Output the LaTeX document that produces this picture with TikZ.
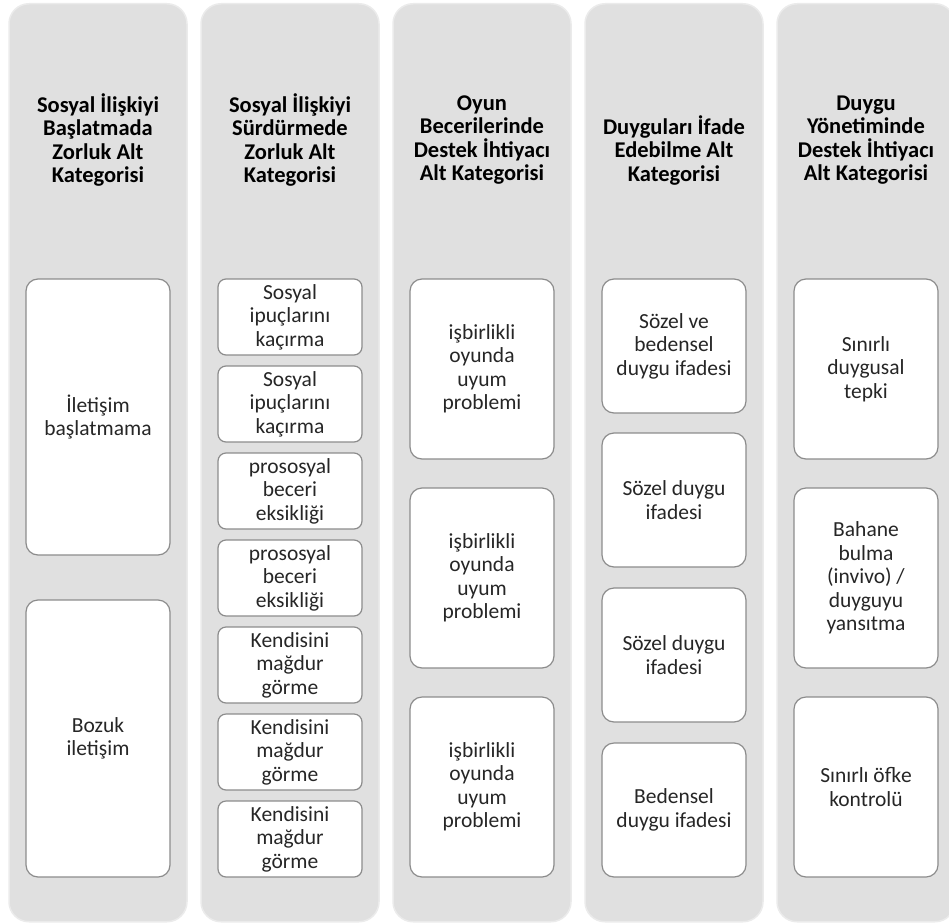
\documentclass[tikz,border=0pt]{standalone}
\usepackage{fontspec}
\setmainfont{Carlito}
\definecolor{colfill}{HTML}{E0E0E0}
\definecolor{colrim}{HTML}{EBEBEB}
\definecolor{boxline}{HTML}{8C8C8C}
\definecolor{txt}{HTML}{262626}
\begin{document}
\begin{tikzpicture}[x=1pt,y=-1pt,
  column/.style={fill=colfill, draw=colrim, line width=1.5pt, rounded corners=20pt,
    minimum width=178pt, minimum height=918pt, anchor=north, inner sep=0pt},
  item/.style={draw=boxline, fill=white, line width=1.2pt, rounded corners=12pt,
    align=center, font=\fontsize{21.5}{23.5}\selectfont, text=txt, inner sep=0pt,
    minimum width=144pt},
  small/.style={item, rounded corners=8pt, minimum height=76pt},
  tall/.style={item, minimum height=180pt},
  mid/.style={item, minimum height=134pt},
  head/.style={align=center, font=\fontsize{22.5}{23.5}\selectfont\bfseries, text=black}]
\useasboundingbox (0,0) rectangle (949,923);
\clip (0,0) rectangle (949,923);

% category columns
\node[column] (c1) at (98,3) {};
\node[column] (c2) at (290,3) {};
\node[column] (c3) at (482,3) {};
\node[column] (c4) at (674,3) {};
\node[column] (c5) at (866,3) {};

% column headings
\node[head] (h1) at (98,140) {Sosyal İlişkiyi\\Başlatmada\\Zorluk Alt\\Kategorisi};
\node[head] (h2) at (290,140) {Sosyal İlişkiyi\\Sürdürmede\\Zorluk Alt\\Kategorisi};
\node[head] (h3) at (482,140) {Oyun\\Becerilerinde\\Destek İhtiyacı\\Alt Kategorisi};
\node[head] (h4) at (674,150) {Duyguları İfade\\Edebilme Alt\\Kategorisi};
\node[head] (h5) at (866,140) {Duygu\\Yönetiminde\\Destek İhtiyacı\\Alt Kategorisi};

% column 1
\node[item, minimum height=276pt] (a1) at (98,417) {İletişim\\başlatmama};
\node[item, minimum height=277pt] (a2) at (98,738.5) {Bozuk\\iletişim};

% column 2
\node[small] (b1) at (290,317) {Sosyal\\ipuçlarını\\kaçırma};
\node[small] (b2) at (290,404) {Sosyal\\ipuçlarını\\kaçırma};
\node[small] (b3) at (290,491) {prososyal\\beceri\\eksikliği};
\node[small] (b4) at (290,578) {prososyal\\beceri\\eksikliği};
\node[small] (b5) at (290,665) {Kendisini\\mağdur\\görme};
\node[small] (b6) at (290,752) {Kendisini\\mağdur\\görme};
\node[small] (b7) at (290,839) {Kendisini\\mağdur\\görme};

% column 3
\node[tall] (d1) at (482,369) {işbirlikli\\oyunda\\uyum\\problemi};
\node[tall] (d2) at (482,578) {işbirlikli\\oyunda\\uyum\\problemi};
\node[tall] (d3) at (482,787) {işbirlikli\\oyunda\\uyum\\problemi};

% column 4
\node[mid] (e1) at (674,346) {Sözel ve\\bedensel\\duygu ifadesi};
\node[mid] (e2) at (674,500) {Sözel duygu\\ifadesi};
\node[mid] (e3) at (674,655) {Sözel duygu\\ifadesi};
\node[mid] (e4) at (674,810) {Bedensel\\duygu ifadesi};

% column 5
\node[tall] (f1) at (866,369) {Sınırlı\\duygusal\\tepki};
\node[tall] (f2) at (866,578) {Bahane\\bulma\\(invivo) /\\duyguyu\\yansıtma};
\node[tall] (f3) at (866,787) {Sınırlı öfke\\kontrolü};
\end{tikzpicture}
\end{document}
